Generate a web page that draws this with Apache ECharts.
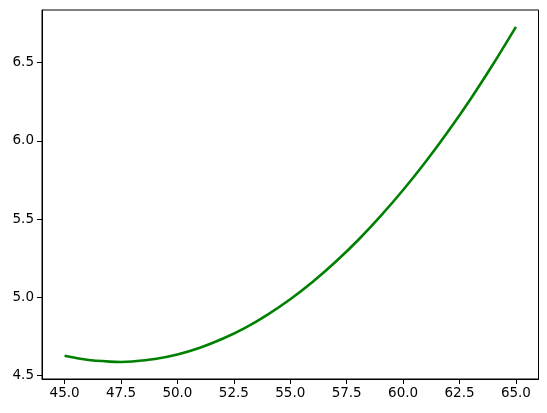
<!DOCTYPE html>
<html>
<head>
    <meta charset="utf-8">
    <title>Curve</title>
    <script src="https://cdn.jsdelivr.net/npm/echarts@6/dist/echarts.min.js"></script>
    <style>
        html, body { margin: 0; padding: 0; background: #fff; }
    </style>
</head>
<body>
    <div id="main" style="width: 547px;height:413px;"></div>
    <script type="text/javascript">
        // values
        var xValues = [45, 46, 47, 47.5, 48, 49, 50, 51, 52, 53, 54, 55,
                       56, 57, 58, 59, 60, 61, 62, 63, 64, 65];
        var yValues = [4.627, 4.601, 4.589, 4.587, 4.590, 4.606, 4.635, 4.678, 4.735, 4.805, 4.890, 4.988,
                       5.100, 5.226, 5.365, 5.519, 5.686, 5.867, 6.062, 6.270, 6.493, 6.729];
        var xTicks = [45, 47.5, 50, 52.5, 55, 57.5, 60, 62.5, 65];
        var yTicks = [4.5, 5.0, 5.5, 6.0, 6.5];

        var points = xValues.map(function (x, i) { return [x, yValues[i]]; });

        var myChart = echarts.init(document.getElementById('main'));
        var labelFont = { color: '#000', fontFamily: 'DejaVu Sans', fontSize: 13.5 };

        var option = {
            animation: false,
            grid: {
                left: 42, right: 8.5, top: 10, bottom: 34,
                show: true, borderColor: '#000', borderWidth: 1
            },
            xAxis: {
                type: 'value',
                min: 44, max: 66,
                axisLine: { lineStyle: { color: '#000', width: 1 } },
                axisTick: { customValues: xTicks, length: 5, lineStyle: { color: '#000' } },
                axisLabel: Object.assign({
                    customValues: xTicks, margin: 7,
                    formatter: function (v) { return v.toFixed(1); }
                }, labelFont),
                splitLine: { show: false }
            },
            yAxis: {
                type: 'value',
                min: 4.478, max: 6.837,
                axisLine: { show: true, lineStyle: { color: '#000', width: 1 } },
                axisTick: { show: true, customValues: yTicks, length: 5, lineStyle: { color: '#000' } },
                axisLabel: Object.assign({
                    customValues: yTicks, margin: 8,
                    formatter: function (v) { return v.toFixed(1); }
                }, labelFont),
                splitLine: { show: false }
            },
            series: [{
                type: 'line',
                data: points,
                showSymbol: false,
                smooth: 0.25,
                lineStyle: { color: '#008000', width: 2.6, cap: 'butt', join: 'round' }
            }]
        };
        myChart.setOption(option);
    </script>
</body>
</html>
